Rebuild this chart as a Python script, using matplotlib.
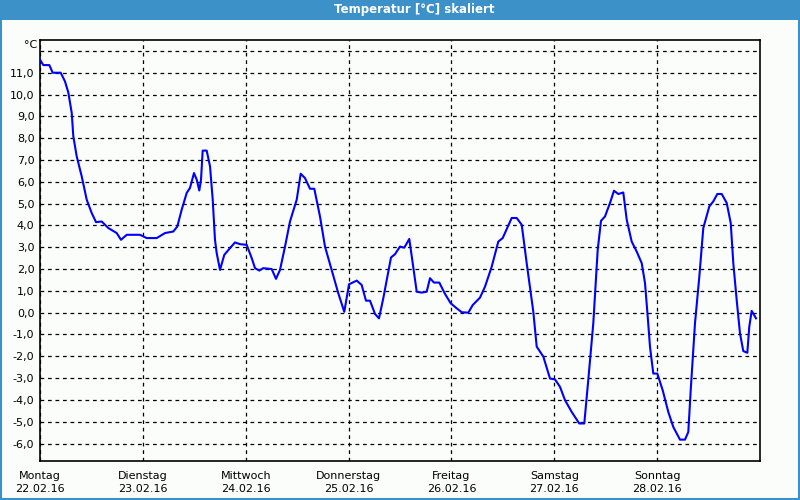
import matplotlib
matplotlib.use("Agg")
import matplotlib.pyplot as plt
from matplotlib.patches import Rectangle

# hours since Monday 00:00 and temperature in degC
hours = [0, 0.77, 2.17, 2.96, 4.83, 5.83, 6.6, 7.4, 7.77, 8.56, 9.73, 10.9,
         12.06, 13.07, 14.4, 15.94, 17.9, 18.9, 20.23, 23.33, 24.89, 27.23,
         29.17, 31.1, 32.04, 33.06, 34.23, 35.0, 35.93, 36.56, 37.17, 37.57,
         37.96, 38.89, 39.67, 40.3, 40.83, 41.23, 42.0, 43.0, 44.33, 45.5,
         46.67, 48.23, 49.4, 50.17, 51.17, 52.1, 54.06, 55.06, 56.0, 57.17,
         58.33, 59.9, 60.83, 61.83, 63.0, 64.0, 65.33, 66.5, 68.06, 69.6,
         71.0, 72.1, 73.9, 75.06, 76.06, 77.0, 78.17, 79.1, 80.1, 81.9, 82.83,
         84.0, 85.0, 86.17, 86.96, 87.9, 89.06, 90.23, 91.0, 91.93, 93.17,
         94.5, 95.83, 97.23, 98.4, 99.94, 100.97, 102.67, 103.83, 105.4,
         106.94, 107.96, 110.06, 111.23, 112.4, 113.56, 115.1, 115.9, 117.45,
         119.0, 120.17, 121.33, 122.5, 124.06, 125.83, 127.0, 127.93, 129.1,
         130.13, 130.9, 131.83, 133.0, 133.93, 134.94, 136.1, 136.9, 138.06,
         139.23, 140.4, 141.17, 141.8, 142.33, 143.1, 144.04, 145.3, 146.6,
         147.77, 149.33, 150.5, 151.27, 151.83, 152.83, 153.84, 154.77,
         156.17, 157.1, 158.04, 159.07, 160.23, 161.17, 161.77, 162.56,
         163.33, 164.1, 165.04, 165.5, 166.06, 167.07]
temps = [11.6, 11.35, 11.35, 11.0, 11.0, 10.6, 10.1, 9.16, 8.09, 7.17, 6.25,
         5.18, 4.57, 4.15, 4.18, 3.88, 3.65, 3.34, 3.57, 3.57, 3.42, 3.42,
         3.65, 3.72, 3.95, 4.72, 5.49, 5.72, 6.4, 6.1, 5.6, 6.1, 7.43, 7.43,
         6.71, 5.18, 3.34, 2.73, 1.96, 2.65, 2.96, 3.22, 3.14, 3.11, 2.5,
         2.04, 1.93, 2.04, 2.0, 1.55, 1.96, 3.03, 4.18, 5.18, 6.37, 6.17,
         5.68, 5.68, 4.41, 3.03, 1.96, 0.89, 0.04, 1.3, 1.47, 1.27, 0.55,
         0.55, -0.06, -0.26, 0.66, 2.53, 2.68, 3.03, 2.98, 3.38, 2.27, 0.96,
         0.92, 0.96, 1.58, 1.38, 1.38, 0.86, 0.43, 0.2, 0.02, 0.0, 0.35, 0.69,
         1.19, 2.11, 3.26, 3.42, 4.34, 4.34, 4.03, 2.27, 0.05, -1.56, -2.02,
         -3.02, -3.06, -3.4, -4.01, -4.55, -5.08, -5.08, -3.09, -0.49, 2.88,
         4.21, 4.41, 5.03, 5.59, 5.44, 5.51, 4.26, 3.26, 2.8, 2.27, 1.35,
         -0.19, -1.56, -2.79, -2.79, -3.56, -4.55, -5.24, -5.82, -5.82, -5.47,
         -3.56, -0.49, 1.65, 3.88, 4.87, 5.1, 5.44, 5.44, 5.03, 4.11, 2.27,
         0.58, -0.95, -1.76, -1.84, -0.64, 0.08, -0.26]

days = ["Montag", "Dienstag", "Mittwoch", "Donnerstag", "Freitag",
        "Samstag", "Sonntag"]
dates = ["22.02.16", "23.02.16", "24.02.16", "25.02.16", "26.02.16",
         "27.02.16", "28.02.16"]
yvals = list(range(-6, 13))

bg = "#fbfdfb"
bar = "#3c92c8"

fig = plt.figure(figsize=(8, 5), dpi=100, facecolor=bg)

# title bar + frame
fig.patches.append(Rectangle((0, 0.96), 1, 0.04, transform=fig.transFigure,
                             facecolor=bar, edgecolor="none", zorder=0))
fig.patches.append(Rectangle((0.001, 0.002), 0.998, 0.97,
                             transform=fig.transFigure, facecolor="none",
                             edgecolor=bar, linewidth=1.5, zorder=0))
fig.text(0.5175, 0.981, "Temperatur [°C] skaliert", color="white",
         fontsize=8.5, fontweight="bold", ha="center", va="center")

ax = fig.add_axes([40 / 800, 39 / 500, 720 / 800, 421 / 500], facecolor=bg)
ax.plot(hours, temps, color="#0000ff", linewidth=1.5, zorder=3)

ax.set_xlim(0, 168)
ax.set_ylim(-6.8, 12.5)

ax.set_xticks([24 * i for i in range(7)])
ax.set_xticklabels([d + "\n" + s for d, s in zip(days, dates)],
                   fontsize=8, linespacing=1.45)
ax.set_yticks(yvals)
ax.set_yticklabels([("%.1f" % v).replace(".", ",") if v < 12 else ""
                    for v in yvals], fontsize=8)
ax.tick_params(axis="both", length=0)
ax.tick_params(axis="x", pad=7)
ax.tick_params(axis="y", pad=4)

ax.grid(True, color="black", linestyle=(0, (3, 3)), linewidth=0.9)
for s in ax.spines.values():
    s.set_linewidth(1.2)
    s.set_color("black")

fig.text(37 / 800, 1 - 45 / 500, "°C", fontsize=8, ha="right", va="center")

fig.savefig("out.png", dpi=100, facecolor=bg)
